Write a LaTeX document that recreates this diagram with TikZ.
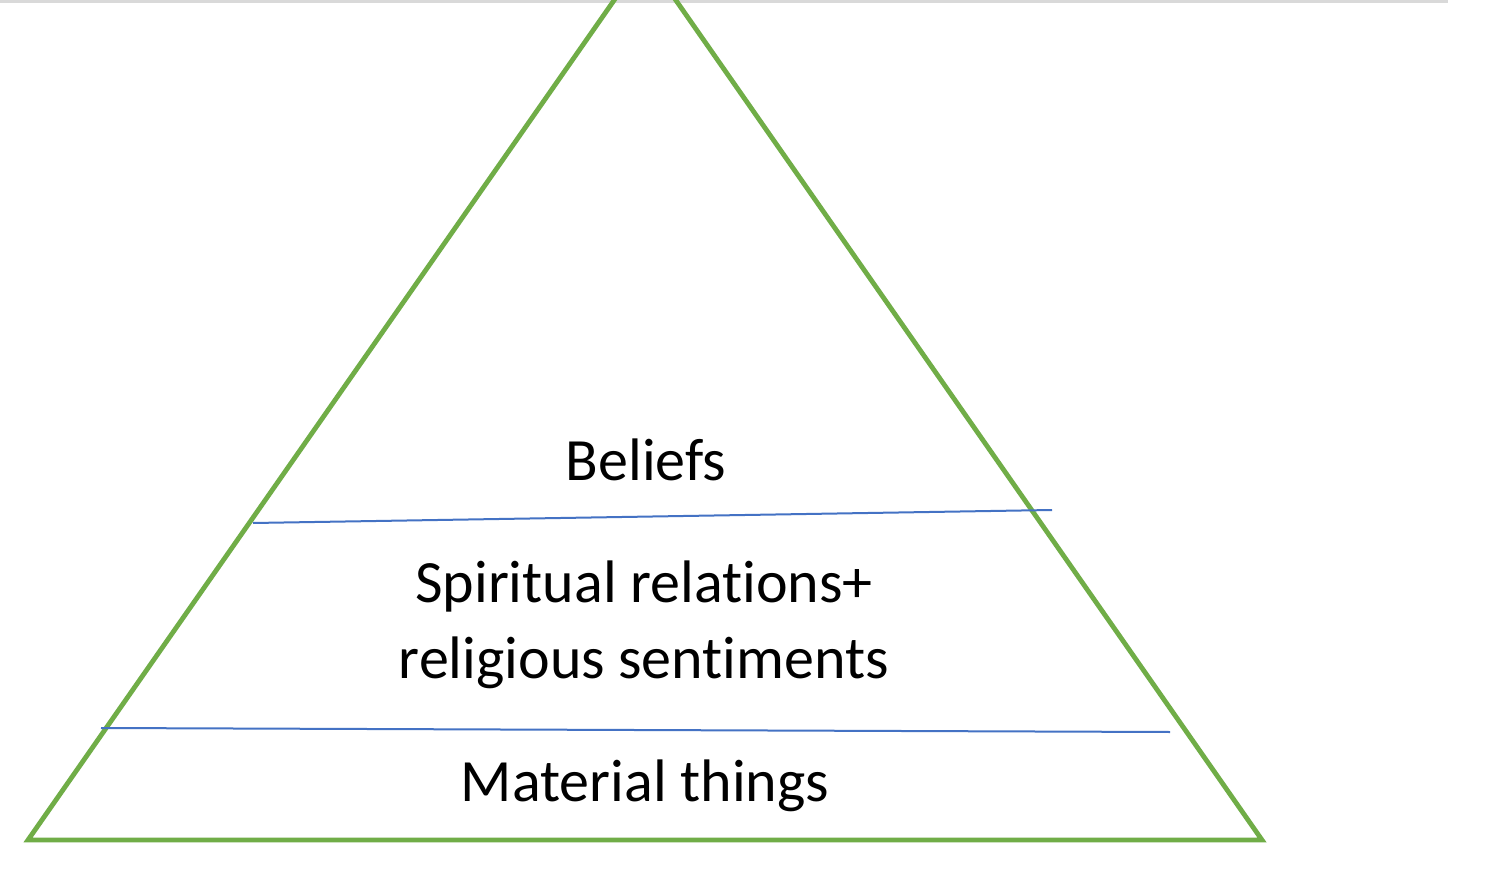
\documentclass[tikz,border=0pt]{standalone}
\usepackage{fontspec}
\setmainfont[Ligatures={NoCommon}]{Carlito}
\definecolor{pgreen}{HTML}{70AD47}
\definecolor{pblue}{HTML}{4472C4}
\tikzset{
  pyr/.style={draw=pgreen, line width=2.4pt, line join=miter},
  divider/.style={draw=pblue, line width=1pt},
  label/.style={font=\fontsize{30pt}{38pt}\selectfont, align=center, anchor=base, inner sep=0pt, text=black}
}
\begin{document}
\begin{tikzpicture}[x=0.5pt, y=-0.5pt]
\useasboundingbox (0,0) rectangle (1500,872);
\clip (0,0) rectangle (1500,872);
\fill[white] (0,0) rectangle (1500,872);
% top gray line
\draw[black!15, line width=1.6pt] (0,1) -- (1448,1);
% pyramid
\coordinate (apex) at (645,-44);
\coordinate (bl) at (28,840);
\coordinate (br) at (1262,840);
\draw[pyr] (apex) -- (bl) -- (br) -- cycle;
% dividers
\coordinate (d1a) at (253,523);
\coordinate (d1b) at (1052,510);
\coordinate (d2a) at (101,728);
\coordinate (d2b) at (1170,732);
\draw[divider] (d1a) -- (d1b);
\draw[divider] (d2a) -- (d2b);
% labels
\node[label] (beliefs) at (646,480) {Beliefs};
\node[label] (spirit1) at (644,602) {Spiritual relations+};
\node[label] (spirit2) at (644,678) {religious sentiments};
\node[label] (material) at (645,801) {Material things};
\end{tikzpicture}
\end{document}
